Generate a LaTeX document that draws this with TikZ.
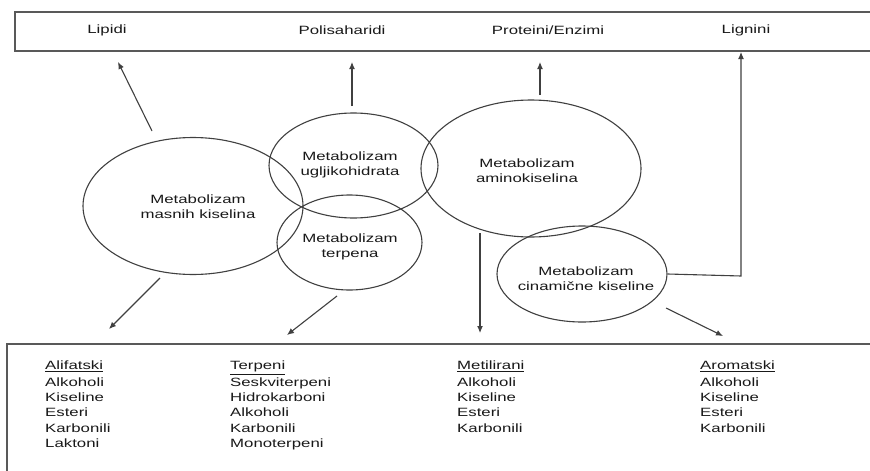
\documentclass[tikz,border=0pt]{standalone}
\usepackage{fontspec}
\setmainfont{Liberation Sans}
\newfontfamily\wfont[FakeStretch=1.4]{Liberation Sans}
\usetikzlibrary{shapes.geometric,arrows.meta}
\begin{document}
\begin{tikzpicture}[x=1pt,y=-1pt,
  txt/.style={font=\wfont\fontsize{12}{15.3}\selectfont, inner sep=0pt, text=black!90},
  ell/.style={draw=black!75, line width=1.1pt, ellipse, inner sep=0pt},
  conn/.style={draw=black!75, line width=1.1pt},
  arr/.style={conn, -{Latex[length=7pt,width=6pt]}},
  box/.style={draw=black!65, line width=1.6pt},
  lst/.style={txt, anchor=north west, align=left}
]
\useasboundingbox (0,0) rectangle (870,471);
\fill[white] (0,0) rectangle (870,471);
% boxes
\draw[box] (880,12) -- (15,12) -- (15,51) -- (880,51);
\draw[box] (880,344) -- (7,344) -- (7,480);
% top labels
\node[txt] (lip) at (107,30) {Lipidi};
\node[txt] (pol) at (342,30) {Polisaharidi};
\node[txt] (pro) at (548,30) {Proteini/Enzimi};
\node[txt] (lig) at (746,30) {Lignini};
% ellipses
\node[ell, minimum width=220pt, minimum height=137pt] (mk) at (193,206) {};
\node[ell, minimum width=169pt, minimum height=105pt] (uh) at (353.5,165.5) {};
\node[ell, minimum width=145pt, minimum height=95pt] (tp) at (349.5,242.5) {};
\node[ell, minimum width=220pt, minimum height=137pt] (ak) at (531,168.5) {};
\node[ell, minimum width=170pt, minimum height=96pt] (ck) at (582,274) {};
% ellipse texts
\node[txt, align=center] (mkt) at (198,207) {Metabolizam\\masnih kiselina};
\node[txt, align=center] (uht) at (350,165) {Metabolizam\\ugljikohidrata};
\node[txt, align=center] (tpt) at (350,247) {Metabolizam\\terpena};
\node[txt, align=center] (akt) at (527,171) {Metabolizam\\aminokiselina};
\node[txt, align=center] (ckt) at (586,279) {Metabolizam\\cinamične kiseline};
% connector endpoints
\coordinate (a1s) at (152,131);
\coordinate (a1e) at (118,62);
\coordinate (a2s) at (352,106);
\coordinate (a2e) at (352,62);
\coordinate (a3s) at (540,95);
\coordinate (a3e) at (540,62);
\coordinate (a4c) at (741,276);
\coordinate (a4e) at (741,52);
\coordinate (b1s) at (160,278);
\coordinate (b1e) at (109,329);
\coordinate (b2s) at (337,296);
\coordinate (b2e) at (287,335);
\coordinate (b3s) at (480,233);
\coordinate (b3e) at (480,333);
\coordinate (b4s) at (666,308);
\coordinate (b4e) at (723,336);
% arrows
\draw[arr] (a1s) -- (a1e);
\draw[arr] (a2s) -- (a2e);
\draw[arr] (a3s) -- (a3e);
\draw[arr] (ck.east) -- (a4c) -- (a4e);
\draw[arr] (b1s) -- (b1e);
\draw[arr] (b2s) -- (b2e);
\draw[arr] (b3s) -- (b3e);
\draw[arr] (b4s) -- (b4e);
% lists
\node[lst] (l1) at (45,361) {\underline{Alifatski}\\[1pt]Alkoholi\\Kiseline\\Esteri\\Karbonili\\Laktoni};
\node[lst] (l2) at (230,361) {\underline{Terpeni}\\[1pt]Seskviterpeni\\Hidrokarboni\\Alkoholi\\Karbonili\\Monoterpeni};
\node[lst] (l3) at (457,361) {\underline{Metilirani}\\[1pt]Alkoholi\\Kiseline\\Esteri\\Karbonili};
\node[lst] (l4) at (700,361) {\underline{Aromatski}\\[1pt]Alkoholi\\Kiseline\\Esteri\\Karbonili};
\end{tikzpicture}
\end{document}
